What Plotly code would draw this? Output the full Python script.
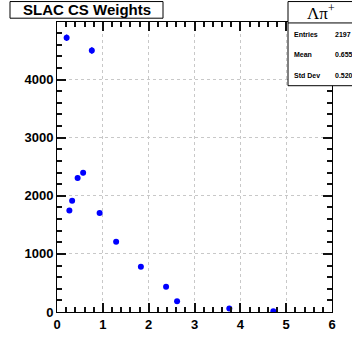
import plotly.graph_objects as go

x_vals = [0.21, 0.27, 0.33, 0.45, 0.57, 0.76, 0.93, 1.29, 1.83, 2.38, 2.62, 3.76, 4.72]
y_vals = [4720, 1745, 1915, 2307, 2398, 4500, 1703, 1207, 778, 436, 186, 60, 11]
y_err = [55, 35, 38, 42, 45, 55, 35, 28, 22, 18, 12, 8, 4]

x_ticks = [0, 1, 2, 3, 4, 5, 6]
y_ticks = [0, 1000, 2000, 3000, 4000]
x_minor_step = 0.2
y_minor_step = 200

stats_title = "Λπ<sup>+</sup>"
stats_labels = ["Entries", "Mean", "Std Dev"]
stats_values = ["2197", "0.6556", "0.5204"]
title_text = "SLAC CS Weights"

W, H = 352, 344
L, R, T, B = 57, 20, 22, 17
pw, ph = W - L - R, H - T - B
X_RANGE = [0, 6]
Y_RANGE = [0, 4990]

def px(x):
    return (x - L) / pw

def py(y):
    return (H - B - y) / ph

fig = go.Figure()
fig.add_trace(go.Scatter(
    x=x_vals, y=y_vals, mode="markers",
    marker=dict(color="#0000ff", size=6),
    error_y=dict(type="data", array=y_err, color="#0000ff", thickness=1.5, width=0),
    showlegend=False,
))

axis_font = dict(family="Liberation Sans, Arial", size=13, color="black", weight="bold")

# main axes carry every tick (minor length); labels only on the major values
x_all = [round(i * x_minor_step, 6) for i in range(int(round((X_RANGE[1] - X_RANGE[0]) / x_minor_step)) + 1)]
y_all = [i * y_minor_step for i in range(int(Y_RANGE[1] // y_minor_step) + 1)]
x_text = [str(int(v)) if float(v).is_integer() and int(v) in x_ticks else "" for v in x_all]
y_text = [str(int(v)) if int(v) in y_ticks else "" for v in y_all]

fig.update_layout(
    xaxis=dict(
        range=X_RANGE, tickmode="array", tickvals=x_all, ticktext=x_text,
        showline=True, linecolor="black", linewidth=1, mirror="allticks",
        ticks="inside", ticklen=5, tickcolor="#111111", tickwidth=2,
        showgrid=False, zeroline=False, tickfont=axis_font,
    ),
    yaxis=dict(
        range=Y_RANGE, tickmode="array", tickvals=y_all, ticktext=y_text,
        showline=True, linecolor="black", linewidth=1, mirror="allticks",
        ticks="inside", ticklen=5, tickcolor="#111111", tickwidth=2,
        showgrid=False, zeroline=False, tickfont=axis_font,
    ),
    # overlay axes carry the longer major ticks and the dotted grid
    xaxis2=dict(
        range=X_RANGE, overlaying="x", anchor="y", side="bottom",
        tickmode="array", tickvals=x_ticks, showticklabels=False,
        showline=False, mirror="allticks", ticks="inside", ticklen=9,
        tickcolor="#111111", tickwidth=2,
        showgrid=True, gridcolor="#c8c8c8", griddash="dot", gridwidth=1,
        zeroline=False,
    ),
    yaxis2=dict(
        range=Y_RANGE, overlaying="y", anchor="x", side="left",
        tickmode="array", tickvals=y_ticks, showticklabels=False,
        showline=False, mirror="allticks", ticks="inside", ticklen=9,
        tickcolor="#111111", tickwidth=2,
        showgrid=True, gridcolor="#c8c8c8", griddash="dot", gridwidth=1,
        zeroline=False,
    ),
)
fig.add_trace(go.Scatter(x=[None], y=[None], xaxis="x2", yaxis="y2",
                         showlegend=False, hoverinfo="skip"))

shapes = []
annotations = []
# title box
shapes.append(dict(type="rect", xref="paper", yref="paper",
                   x0=px(10), x1=px(163), y0=py(18), y1=py(0.5),
                   line=dict(color="black", width=1), fillcolor="white", layer="above"))
annotations.append(dict(text=title_text, xref="paper", yref="paper",
                        x=px(86.5), y=py(9), showarrow=False,
                        xanchor="center", yanchor="middle",
                        font=dict(family="Liberation Sans, Arial", size=15, color="black", weight="bold")))
# stats box
shapes.append(dict(type="rect", xref="paper", yref="paper",
                   x0=px(288), x1=px(360), y0=py(89), y1=py(0.5),
                   line=dict(color="black", width=1), fillcolor="white", layer="above"))
shapes.append(dict(type="line", xref="paper", yref="paper",
                   x0=px(288), x1=px(360), y0=py(23), y1=py(23),
                   line=dict(color="black", width=1), layer="above"))
annotations.append(dict(text=stats_title, xref="paper", yref="paper",
                        x=px(321), y=py(12), showarrow=False,
                        xanchor="center", yanchor="middle",
                        font=dict(family="Liberation Serif, Times New Roman", size=17, color="black")))
for i, (lab, val) in enumerate(zip(stats_labels, stats_values)):
    yy = py(35 + i * 21.5)
    annotations.append(dict(text=lab, xref="paper", yref="paper", x=px(292), y=yy,
                            showarrow=False, xanchor="left", yanchor="middle",
                            font=dict(family="Liberation Sans, Arial", size=7, color="black", weight="bold")))
    annotations.append(dict(text=val, xref="paper", yref="paper", x=px(333), y=yy,
                            showarrow=False, xanchor="left", yanchor="middle",
                            font=dict(family="Liberation Sans, Arial", size=7, color="black", weight="bold")))

fig.update_layout(
    width=W, height=H, margin=dict(l=L, r=R, t=T, b=B),
    paper_bgcolor="white", plot_bgcolor="white",
    shapes=shapes, annotations=annotations,
)
fig.write_html("out.html")
